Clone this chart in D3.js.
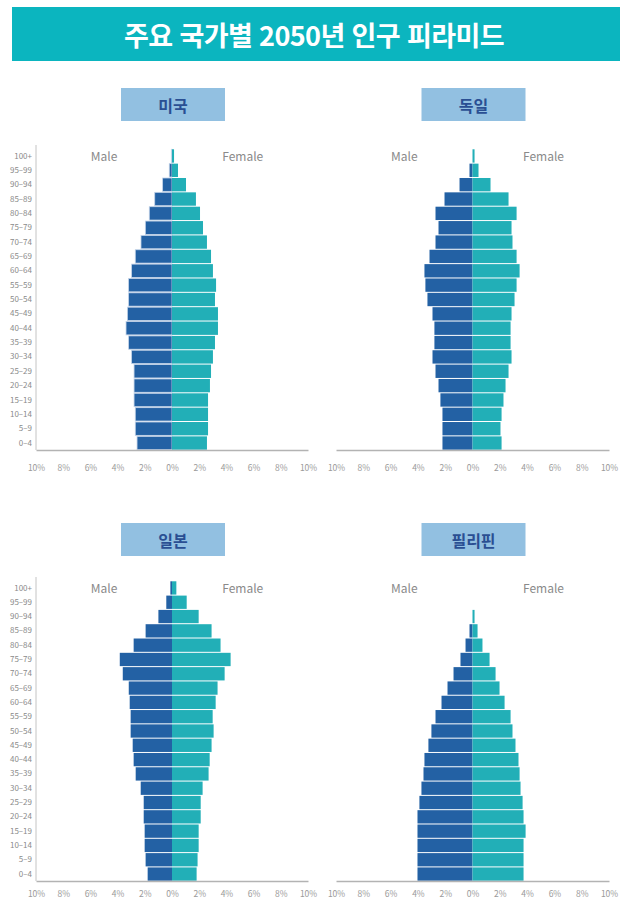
<!DOCTYPE html>
<html lang="ko">
<head>
<meta charset="utf-8">
<script src="https://cdn.jsdelivr.net/npm/d3@7"></script>
<style>
  html, body { margin: 0; padding: 0; background: #fff; }
  svg { display: block; }
</style>
</head>
<body>
<svg id="chart" width="633" height="901"></svg>
<script>
// Age groups, top (oldest) to bottom (youngest)
const ageGroups = ["100+", "95-99", "90-94", "85-89", "80-84", "75-79", "70-74", "65-69",
  "60-64", "55-59", "50-54", "45-49", "40-44", "35-39", "30-34", "25-29",
  "20-24", "15-19", "10-14", "5-9", "0-4"];

// Share of total population (%), 2050 projection
const usMale      = [0.05, 0.20, 0.69, 1.27, 1.67, 1.96, 2.28, 2.70, 2.97, 3.19, 3.19, 3.28, 3.38, 3.19, 2.97, 2.79, 2.79, 2.79, 2.70, 2.70, 2.57];
const usFemale    = [0.15, 0.44, 1.03, 1.76, 2.06, 2.28, 2.57, 2.87, 3.01, 3.24, 3.16, 3.38, 3.38, 3.16, 3.01, 2.87, 2.79, 2.65, 2.65, 2.65, 2.57];
const deMale      = [0.00, 0.22, 0.95, 2.05, 2.71, 2.49, 2.71, 3.15, 3.52, 3.45, 3.30, 2.93, 2.79, 2.79, 2.93, 2.71, 2.49, 2.35, 2.20, 2.20, 2.20];
const deFemale    = [0.15, 0.44, 1.32, 2.64, 3.23, 2.86, 2.93, 3.23, 3.45, 3.23, 3.08, 2.86, 2.79, 2.79, 2.86, 2.64, 2.42, 2.27, 2.13, 2.05, 2.13];
const jpMale      = [0.12, 0.42, 1.00, 1.94, 2.82, 3.84, 3.62, 3.18, 3.11, 3.04, 3.04, 2.89, 2.82, 2.67, 2.30, 2.08, 2.08, 2.01, 2.01, 1.94, 1.79];
const jpFemale    = [0.32, 1.08, 1.96, 2.91, 3.57, 4.31, 3.87, 3.35, 3.21, 2.99, 3.06, 2.91, 2.77, 2.69, 2.25, 2.11, 2.11, 1.96, 1.96, 1.88, 1.81];
const phMale      = [0.00, 0.00, 0.00, 0.22, 0.51, 0.88, 1.39, 1.83, 2.27, 2.71, 3.01, 3.23, 3.52, 3.59, 3.74, 3.89, 4.03, 4.03, 4.03, 4.03, 4.03];
const phFemale    = [0.00, 0.00, 0.15, 0.37, 0.73, 1.25, 1.69, 1.98, 2.35, 2.79, 2.93, 3.15, 3.37, 3.45, 3.52, 3.67, 3.74, 3.89, 3.74, 3.74, 3.74];

const xTicks = [-10, -8, -6, -4, -2, 0, 2, 4, 6, 8, 10];
const titleText = "주요 국가별 2050년 인구 피라미드";
const countries = ["미국", "독일", "일본", "필리핀"];

const FONT = "'Noto Sans CJK KR', 'Noto Sans', sans-serif";
const COLOR_MALE = "#2361a4";
const COLOR_FEMALE = "#22afb7";

const svg = d3.select("#chart");

// Title banner
svg.append("rect")
  .attr("x", 12).attr("y", 7).attr("width", 608).attr("height", 54)
  .attr("fill", "#0bb5bf");
svg.append("text")
  .attr("x", 314).attr("y", 34)
  .attr("text-anchor", "middle").attr("dominant-baseline", "central")
  .attr("font-family", FONT).attr("font-weight", 700)
  .attr("font-size", 27).attr("letter-spacing", -0.6)
  .attr("fill", "#fff")
  .text(titleText);

const panels = [
  { name: countries[0], male: usMale, female: usFemale, x0: 36,  x1: 308, y0: 149, y1: 450, labelY: 104, showAges: true,  outline: true,  tickPad: 15 },
  { name: countries[1], male: deMale, female: deFemale, x0: 336, x1: 609, y0: 149, y1: 450, labelY: 104, showAges: false, outline: false, tickPad: 15 },
  { name: countries[2], male: jpMale, female: jpFemale, x0: 36,  x1: 308, y0: 581, y1: 881, labelY: 539, showAges: true,  outline: false, tickPad: 10 },
  { name: countries[3], male: phMale, female: phFemale, x0: 336, x1: 609, y0: 581, y1: 881, labelY: 539, showAges: false, outline: false, tickPad: 10 }
];

panels.forEach(p => {
  const g = svg.append("g");
  const cx = (p.x0 + p.x1) / 2;

  // Country label box
  g.append("rect")
    .attr("x", cx - 51).attr("y", p.labelY - 16).attr("width", 104).attr("height", 33)
    .attr("fill", "#92c0e1");
  g.append("text")
    .attr("x", cx + 1).attr("y", p.labelY + 1)
    .attr("text-anchor", "middle").attr("dominant-baseline", "central")
    .attr("font-family", FONT).attr("font-weight", 700).attr("font-size", 16)
    .attr("fill", "#2a4f93")
    .text(p.name);

  const x = d3.scaleLinear().domain([-10, 10]).range([p.x0, p.x1]);
  const y = d3.scaleBand().domain(ageGroups).range([p.y0, p.y1]).paddingInner(0.07).paddingOuter(0.02);

  const rows = ageGroups.map((a, i) => ({ age: a, m: p.male[i], f: p.female[i] }));

  // Male bars (left)
  g.append("g").selectAll("rect").data(rows.filter(d => d.m > 0)).join("rect")
    .attr("x", d => x(-d.m))
    .attr("y", d => y(d.age))
    .attr("width", d => x(0) - x(-d.m))
    .attr("height", y.bandwidth())
    .attr("fill", COLOR_MALE)
    .attr("stroke", p.outline ? "#c3d3e8" : "none")
    .attr("stroke-width", p.outline ? 0.8 : 0);

  // Female bars (right)
  g.append("g").selectAll("rect").data(rows.filter(d => d.f > 0)).join("rect")
    .attr("x", x(0))
    .attr("y", d => y(d.age))
    .attr("width", d => x(d.f) - x(0))
    .attr("height", y.bandwidth())
    .attr("fill", COLOR_FEMALE);

  // Bottom axis line and tick labels
  const xAxis = d3.axisBottom(x)
    .tickValues(xTicks)
    .tickSize(0)
    .tickPadding(p.tickPad)
    .tickFormat(d => Math.abs(d) + "%");
  const ax = g.append("g").attr("transform", `translate(0,${p.y1})`).call(xAxis);
  ax.select(".domain").attr("stroke", "#b3b3b3").attr("stroke-width", 1.5);
  ax.selectAll("text")
    .attr("font-family", FONT).attr("font-size", 8.5).attr("fill", "#9a9a9a");

  // Left age axis
  if (p.showAges) {
    const yAxis = d3.axisLeft(y).tickSize(0).tickPadding(4);
    const ay = g.append("g").attr("transform", `translate(${p.x0},0)`).call(yAxis);
    ay.select(".domain").attr("stroke", "#c4c4c4").attr("stroke-width", 1)
      .attr("d", `M0,${p.y0 - 4}V${p.y1}`);
    ay.selectAll("text")
      .attr("font-family", FONT).attr("font-size", 8).attr("fill", "#8a8a8a")
      .text(d => d.replace("-", "–"));
  }

  // Sex labels
  const sexY = p.y0 + 6;
  g.append("text")
    .attr("x", x(-5)).attr("y", sexY)
    .attr("text-anchor", "middle").attr("dominant-baseline", "central")
    .attr("font-family", FONT).attr("font-size", 12).attr("fill", "#8a8a8a")
    .text("Male");
  g.append("text")
    .attr("x", x(5.2)).attr("y", sexY)
    .attr("text-anchor", "middle").attr("dominant-baseline", "central")
    .attr("font-family", FONT).attr("font-size", 12).attr("fill", "#8a8a8a")
    .text("Female");
});
</script>
</body>
</html>
